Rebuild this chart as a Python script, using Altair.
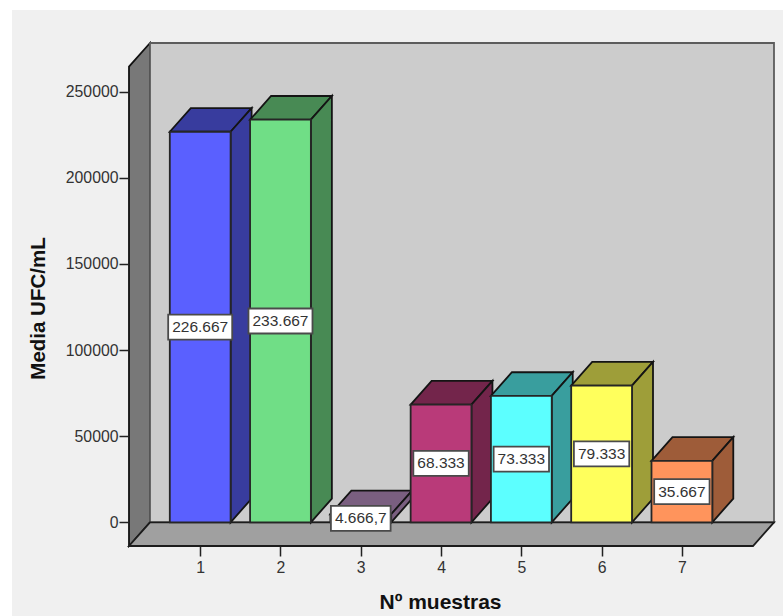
import altair as alt
import pandas as pd

# Values per sample
samples = [1, 2, 3, 4, 5, 6, 7]
means = [226667, 233667, 4666.7, 68333, 73333, 79333, 35667]
labels = ["226.667", "233.667", "4.666,7", "68.333", "73.333", "79.333", "35.667"]
front_colors = ["#5a60ff", "#70de86", "#c498ce", "#b93a79", "#5cffff", "#ffff5c", "#ff945c"]
side_colors = ["#383c9e", "#488a54", "#7a5f80", "#73254b", "#399e9e", "#9e9e39", "#9e5c39"]

FONT = "Liberation Sans"
WIDTH, HEIGHT = 645, 503

# Scale factors of the oblique projection
PX_PER_SAMPLE = 80.28
PX_PER_UNIT = 430.75 / 250000
HALF_BAR = 30.4 / PX_PER_SAMPLE
DEPTH_X = 21 / PX_PER_SAMPLE
DEPTH_Y = 23.7 / PX_PER_UNIT

X_MIN = 1 - 71.2 / PX_PER_SAMPLE
X_MAX = X_MIN + WIDTH / PX_PER_SAMPLE
Y_MIN = -DEPTH_Y
Y_MAX = Y_MIN + HEIGHT / PX_PER_UNIT

x_scale = alt.Scale(domain=[X_MIN, X_MAX], nice=False, zero=False)
y_scale = alt.Scale(domain=[Y_MIN, Y_MAX], nice=False, zero=False)


def face(name, color, stroke, points):
    return [
        {"face": name, "color": color, "edge": stroke, "x": x, "low": low, "high": high}
        for x, low, high in points
    ]


# Box frame: left wall, back wall and floor, in painting order
wall_top = Y_MAX - DEPTH_Y
frame = []
frame += face("a-left", "#787878", "#111111", [
    (X_MIN, Y_MIN, wall_top),
    (X_MIN + DEPTH_X, 0, Y_MAX),
])
frame += face("b-back", "#cccccc", "#5c5c5c", [
    (X_MIN + DEPTH_X, 0, Y_MAX),
    (X_MAX, 0, Y_MAX),
])
frame += face("c-floor", "#a0a0a0", "#1c1c1c", [
    (X_MIN, Y_MIN, Y_MIN),
    (X_MIN + DEPTH_X, Y_MIN, 0),
    (X_MAX - DEPTH_X, Y_MIN, 0),
    (X_MAX, 0, 0),
])

# Each bar is a top face, a side face and a front face
bars = []
for s, v, front, side in zip(samples, means, front_colors, side_colors):
    x0, x1 = s - HALF_BAR, s + HALF_BAR
    bars += face(f"{s}-a-top", side, "#141414", [
        (x0, v, v),
        (x0 + DEPTH_X, v, v + DEPTH_Y),
        (x1, v, v + DEPTH_Y),
        (x1 + DEPTH_X, v + DEPTH_Y, v + DEPTH_Y),
    ])
    bars += face(f"{s}-b-side", side, "#141414", [
        (x1, 0, v),
        (x1 + DEPTH_X, DEPTH_Y, v + DEPTH_Y),
    ])
    bars += face(f"{s}-c-front", front, "#262626", [
        (x0, 0, v),
        (x1, 0, v),
    ])

# Value boxes sit at mid height of each bar
boxes = pd.DataFrame({"x": samples, "v": means, "label": labels})
boxes["mid"] = boxes["v"] / 2
box_px = boxes["label"].map(lambda t: (sum(0.278 if c in ".," else 0.556 for c in t) * 15.5 + 8) / 2)
boxes["x0"] = boxes["x"] - box_px / PX_PER_SAMPLE
boxes["x1"] = boxes["x"] + box_px / PX_PER_SAMPLE
boxes["y0"] = boxes["mid"] - 12.5 / PX_PER_UNIT
boxes["y1"] = boxes["mid"] + 12.5 / PX_PER_UNIT

axis_style = dict(
    domain=False,
    grid=False,
    zindex=1,
    tickSize=10,
    tickWidth=1.5,
    tickColor="#222222",
    labelFont=FONT,
    labelFontSize=15.8,
    labelColor="#333333",
    titleFont=FONT,
    titleFontWeight="bold",
    titleColor="#111111",
)

x_axis = alt.Axis(
    values=samples, format="d", title="Nº muestras", labelPadding=4,
    titleFontSize=21, titleX=311, titleY=45, **axis_style,
)
y_axis = alt.Axis(
    values=[0, 50000, 100000, 150000, 200000, 250000], format="d", title="Media UFC/mL",
    labelPadding=1, titleFontSize=20.5, titleX=-81, titleY=265, **axis_style,
)


def faces_layer(rows, **axes):
    return alt.Chart(pd.DataFrame(rows)).mark_area(strokeWidth=1.8, strokeJoin="miter", clip=False).encode(
        x=alt.X("x:Q", scale=x_scale, **({"axis": axes["x_axis"]} if axes else {})),
        y=alt.Y("low:Q", scale=y_scale, **({"axis": axes["y_axis"]} if axes else {})),
        y2="high:Q",
        detail="face:N",
        fill=alt.Fill("color:N", scale=None),
        stroke=alt.Stroke("edge:N", scale=None),
    )


# Light panel behind the whole figure, leaving a thin white margin
panel = alt.Chart(pd.DataFrame({"p": [0]})).mark_rect(color="#f0f0f0", clip=False).encode(
    x=alt.value(-117), x2=alt.value(654), y=alt.value(-33), y2=alt.value(573),
)

box_rects = alt.Chart(boxes).mark_rect(
    fill="white", stroke="#4a4a4a", strokeWidth=1.8
).encode(
    x=alt.X("x0:Q", scale=x_scale),
    x2="x1:Q",
    y=alt.Y("y0:Q", scale=y_scale),
    y2="y1:Q",
)
box_text = alt.Chart(boxes).mark_text(
    font=FONT, fontSize=15.5, color="#333333", align="center", baseline="middle"
).encode(
    x=alt.X("x:Q", scale=x_scale),
    y=alt.Y("mid:Q", scale=y_scale),
    text="label:N",
)

chart = alt.layer(
    panel,
    faces_layer(frame, x_axis=x_axis, y_axis=y_axis),
    faces_layer(bars),
    box_rects,
    box_text,
).properties(
    width=WIDTH,
    height=HEIGHT,
    padding={"left": 129, "top": 43, "right": 9, "bottom": 70},
    autosize=alt.AutoSizeParams(type="none"),
    background="white",
).configure_view(stroke=None)

chart.save("out.html", embed_options={"renderer": "svg", "actions": False})
